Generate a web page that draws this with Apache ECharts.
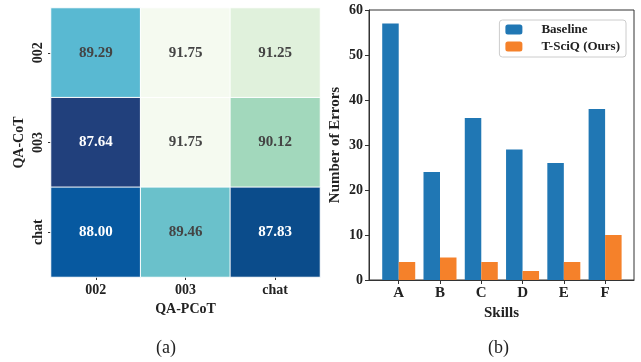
<!DOCTYPE html>
<html><head><meta charset="utf-8">
<script src="https://cdn.jsdelivr.net/npm/echarts@6/dist/echarts.min.js"></script>
<style>html,body{margin:0;padding:0;background:#fff}#c{width:641px;height:362px}</style>
</head><body><div id="c"></div>
<script>
// Heatmap data
var pcotLabels = ['002', '003', 'chat'];
var cotLabels = ['002', '003', 'chat'];
var row002 = [89.29, 91.75, 91.25];
var row003 = [87.64, 91.75, 90.12];
var rowChat = [88.00, 89.46, 87.83];
// Bar data
var skills = ['A', 'B', 'C', 'D', 'E', 'F'];
var baseline = [57, 24, 36, 29, 26, 38];
var tsciq = [4, 5, 4, 2, 4, 10];
var yTicks = [0, 10, 20, 30, 40, 50, 60];

// colormap anchors (value, colour)
var cmap = [[87.64,'#21407c'],[87.83,'#0a4c8b'],[88.00,'#0659a0'],[89.29,'#58b9d2'],[89.46,'#6ac1cb'],[90.12,'#a2d8bc'],[91.25,'#e0f1dc'],[91.75,'#f5faf0']];
function hex(h){return [parseInt(h.substr(1,2),16),parseInt(h.substr(3,2),16),parseInt(h.substr(5,2),16)];}
function colAt(v){
  for (var i=0;i<cmap.length-1;i++){
    var a=cmap[i],b=cmap[i+1];
    if (v<=b[0]){var t=(v-a[0])/(b[0]-a[0]);var ca=hex(a[1]),cb=hex(b[1]);
      return 'rgb('+ca.map(function(c,k){return Math.round(c+(cb[k]-c)*t);}).join(',')+')';}
  }
  return cmap[cmap.length-1][1];
}
var vmin=87.64, vmax=91.75, N=200, stops=[];
for (var i=0;i<=N;i++) stops.push(colAt(vmin+(vmax-vmin)*i/N));

var rows=[row002,row003,rowChat];
var hData=[];
rows.forEach(function(r,ri){r.forEach(function(v,ci){hData.push([ci,ri,v]);});});

var font='Liberation Serif';
var chart=echarts.init(document.getElementById('c'));
chart.setOption({
  animation:false,
  textStyle:{fontFamily:font},
  grid:[
    {left:51,top:8,width:269,height:269},
    {left:369,top:10,right:7,bottom:82,show:true,borderColor:'#333',borderWidth:1,backgroundColor:'transparent'}
  ],
  visualMap:{type:'continuous',show:false,seriesIndex:0,min:vmin,max:vmax,dimension:2,inRange:{color:stops}},
  xAxis:[
    {type:'category',gridIndex:0,data:pcotLabels,name:'QA-PCoT',nameLocation:'middle',nameGap:22,
     nameTextStyle:{fontFamily:font,fontWeight:'bold',fontSize:14,color:'#222'},
     axisLine:{show:false},axisTick:{show:true,alignWithLabel:true,length:3,lineStyle:{color:'#333'}},
     axisLabel:{fontFamily:font,fontWeight:'bold',fontSize:14,color:'#222',margin:6},splitLine:{show:false}},
    {type:'value',gridIndex:1,min:-0.72,max:5.7,name:'Skills',nameLocation:'middle',nameGap:24,
     nameTextStyle:{fontFamily:font,fontWeight:'bold',fontSize:15,color:'#222'},
     axisLine:{show:true,onZero:false,lineStyle:{color:'#333'}},
     axisTick:{show:true,customValues:[0,1,2,3,4,5],length:4,lineStyle:{color:'#333'}},
     axisLabel:{customValues:[0,1,2,3,4,5],formatter:function(v){return skills[Math.round(v)];},
       fontFamily:font,fontWeight:'bold',fontSize:15,color:'#222',margin:6},
     splitLine:{show:false}}
  ],
  yAxis:[
    {type:'category',gridIndex:0,data:cotLabels,inverse:true,name:'QA-CoT',nameLocation:'middle',nameGap:25,
     nameTextStyle:{fontFamily:font,fontWeight:'bold',fontSize:14,color:'#222'},
     axisLine:{show:false},axisTick:{show:true,alignWithLabel:true,length:3,lineStyle:{color:'#333'}},
     axisLabel:{fontFamily:font,fontWeight:'bold',fontSize:14,color:'#222',rotate:90,margin:6},splitLine:{show:false}},
    {type:'value',gridIndex:1,min:0,max:60,interval:10,name:'Number of Errors',nameLocation:'middle',nameGap:26,
     nameTextStyle:{fontFamily:font,fontWeight:'bold',fontSize:15,color:'#222'},
     axisLine:{show:true,onZero:false,lineStyle:{color:'#333'}},axisTick:{show:true,length:4,lineStyle:{color:'#333'}},
     axisLabel:{fontFamily:font,fontWeight:'bold',fontSize:14,color:'#222',margin:6},splitLine:{show:false}}
  ],
  legend:{data:['Baseline','T-SciQ (Ours)'],orient:'vertical',right:15,top:20,itemWidth:17,itemHeight:10,itemGap:4,
    padding:[3,6,4,6],borderColor:'#ccc',borderWidth:1,borderRadius:3,
    textStyle:{fontFamily:font,fontWeight:'bold',fontSize:13,color:'#222',padding:[0,0,0,14]}},
  series:[
    {type:'heatmap',xAxisIndex:0,yAxisIndex:0,data:hData,
     itemStyle:{borderColor:'#fff',borderWidth:1},
     label:{show:true,formatter:function(p){var v=p.value[2].toFixed(2);return p.value[2]<89?'{w|'+v+'}':'{d|'+v+'}';},
       rich:{w:{color:'#fff',fontFamily:font,fontWeight:'bold',fontSize:15},d:{color:'#444',fontFamily:font,fontWeight:'bold',fontSize:15}}}},
    {type:'bar',name:'Baseline',xAxisIndex:1,yAxisIndex:1,data:baseline.map(function(v,i){return [i,v];}),
     barWidth:16.5,barGap:'0%',itemStyle:{color:'#2077b4'}},
    {type:'bar',name:'T-SciQ (Ours)',xAxisIndex:1,yAxisIndex:1,data:tsciq.map(function(v,i){return [i,v];}),
     barWidth:16.5,barGap:'0%',itemStyle:{color:'#f5812a'}}
  ],
  graphic:[
    {type:'text',left:156,top:339,style:{text:'(a)',font:'18px "Liberation Serif"',fill:'#222'}},
    {type:'text',left:488,top:339,style:{text:'(b)',font:'18px "Liberation Serif"',fill:'#222'}}
  ]
});
</script></body></html>
